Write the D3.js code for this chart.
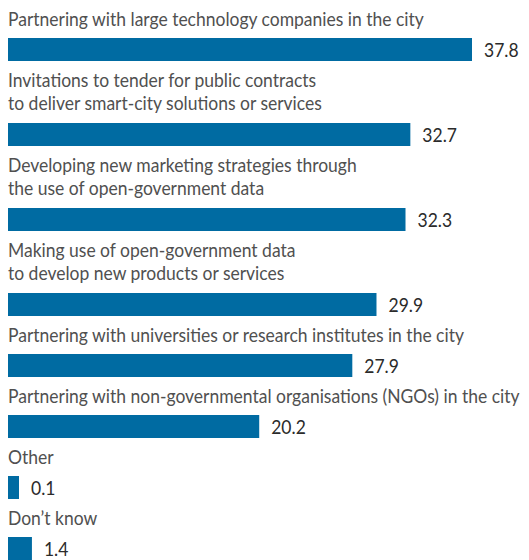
<!DOCTYPE html>
<html>
<head>
  <meta charset="utf-8" />
  <script src="https://cdn.jsdelivr.net/npm/d3@7"></script>
  <style>
    body { margin: 0; background: #fff; }
    text { font-family: Lato, "Noto Sans", sans-serif; }
    .label { fill: #505050; font-size: 20px; }
    .value { fill: #2b2b2b; font-size: 20px; }
  </style>
</head>
<body>
  <svg width="529" height="560"></svg>
  <script>
  // chart data
  var categories = [
    ["Partnering with large technology companies in the city"],
    ["Invitations to tender for public contracts", "to deliver smart-city solutions or services"],
    ["Developing new marketing strategies through", "the use of open-government data"],
    ["Making use of open-government data", "to develop new products or services"],
    ["Partnering with universities or research institutes in the city"],
    ["Partnering with non-governmental organisations (NGOs) in the city"],
    ["Other"],
    ["Don\u2019t know"]
  ]
  var values = [37.8, 32.7, 32.3, 29.9, 27.9, 20.2, 0.1, 1.4]

  var svg = d3.select('svg')
  var left = 8,
      barH = 23,
      lineH = 24,
      rowPad = 37,
      firstLabelW = 416   // width of the top label in the original, condensed face

  // rows grow with the number of label lines
  var rows = []
  var rowTop = 0
  categories.forEach(function(lines, i) {
    var h = lines.length * lineH + rowPad
    rows.push({lines: lines, value: values[i], top: rowTop, bottom: rowTop + h})
    rowTop += h
  })

  var x = d3.scaleLinear().domain([0, d3.max(values)]).range([7, 464])
  var barW = function(v) { return Math.max(x(v), 11) }

  // no condensed face installed: squeeze the text horizontally instead
  var probe = svg.append('text').attr('class', 'label').text(categories[0][0])
  var squeeze = firstLabelW / probe.node().getComputedTextLength()
  probe.remove()

  var row = svg.selectAll('g.row')
    .data(rows)
    .enter().append('g')
    .attr('class', 'row')

  row.append('text')
    .attr('class', 'label')
    .attr('transform', 'translate(' + left + ',0) scale(' + squeeze + ',1)')
    .selectAll('tspan')
    .data(function(d) { return d.lines.map(function(l, j) { return {t: l, y: d.top + 26 + j * 23} }) })
    .enter().append('tspan')
    .attr('x', 0)
    .attr('y', function(d) { return d.y })
    .text(function(d) { return d.t })

  row.append('rect')
    .attr('x', left)
    .attr('y', function(d) { return d.bottom - barH })
    .attr('width', function(d) { return barW(d.value) })
    .attr('height', barH)
    .attr('fill', '#006ba2')

  row.append('text')
    .attr('class', 'value')
    .attr('transform', function(d) {
      return 'translate(' + (left + barW(d.value) + 12) + ',' + (d.bottom - barH / 2 + 7) + ') scale(' + squeeze + ',1)'
    })
    .text(function(d) { return d.value.toFixed(1) })
  </script>
</body>
</html>
